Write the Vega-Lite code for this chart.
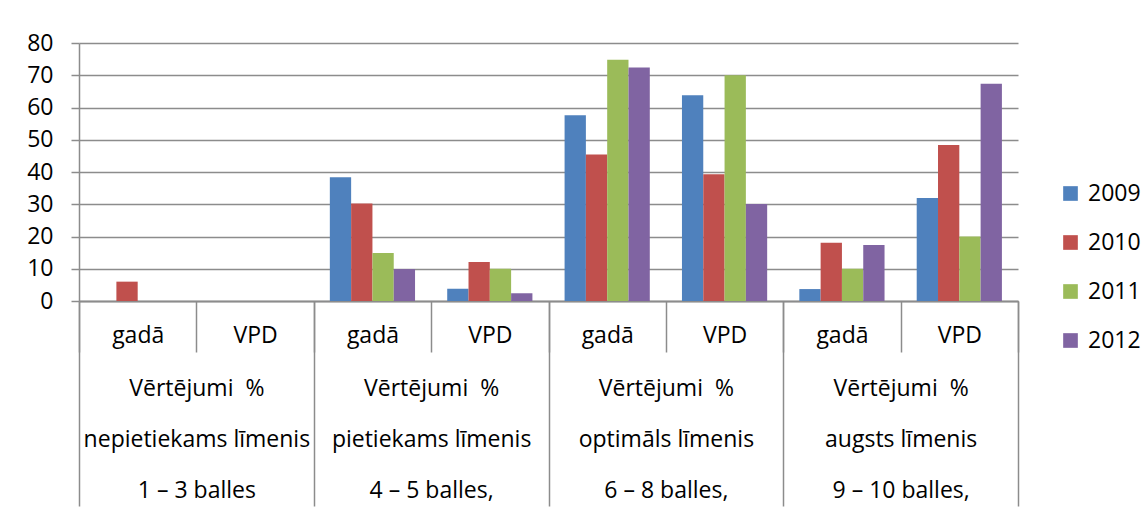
{
  "$schema": "https://vega.github.io/schema/vega-lite/v6.json",
  "width": 939,
  "height": 258,
  "autosize": {"type": "none"},
  "padding": {"left": 79, "top": 43, "right": 128, "bottom": 213},
  "background": "white",
  "config": {
    "font": "Open Sans",
    "view": {"stroke": null},
    "axis": {
      "labelFont": "Open Sans",
      "labelFontSize": 23,
      "labelColor": "#000000",
      "domainColor": "#8c8c8c",
      "domainWidth": 1.5,
      "tickColor": "#8c8c8c",
      "tickWidth": 1.5,
      "gridColor": "#8c8c8c",
      "gridWidth": 1.5
    }
  },
  "data": {
    "values": [
      {"cat": "1 gadā", "group": "Vērtējumi \u00a0%|nepietiekams līmenis|1 – 3 balles", "year": "2009", "value": 0},
      {"cat": "1 gadā", "group": "Vērtējumi \u00a0%|nepietiekams līmenis|1 – 3 balles", "year": "2010", "value": 6},
      {"cat": "1 gadā", "group": "Vērtējumi \u00a0%|nepietiekams līmenis|1 – 3 balles", "year": "2011", "value": 0},
      {"cat": "1 gadā", "group": "Vērtējumi \u00a0%|nepietiekams līmenis|1 – 3 balles", "year": "2012", "value": 0},
      {"cat": "1 VPD", "group": "Vērtējumi \u00a0%|nepietiekams līmenis|1 – 3 balles", "year": "2009", "value": 0},
      {"cat": "1 VPD", "group": "Vērtējumi \u00a0%|nepietiekams līmenis|1 – 3 balles", "year": "2010", "value": 0},
      {"cat": "1 VPD", "group": "Vērtējumi \u00a0%|nepietiekams līmenis|1 – 3 balles", "year": "2011", "value": 0},
      {"cat": "1 VPD", "group": "Vērtējumi \u00a0%|nepietiekams līmenis|1 – 3 balles", "year": "2012", "value": 0},
      {"cat": "2 gadā", "group": "Vērtējumi \u00a0%|pietiekams līmenis|4 – 5 balles,", "year": "2009", "value": 38.4},
      {"cat": "2 gadā", "group": "Vērtējumi \u00a0%|pietiekams līmenis|4 – 5 balles,", "year": "2010", "value": 30.2},
      {"cat": "2 gadā", "group": "Vērtējumi \u00a0%|pietiekams līmenis|4 – 5 balles,", "year": "2011", "value": 14.9},
      {"cat": "2 gadā", "group": "Vērtējumi \u00a0%|pietiekams līmenis|4 – 5 balles,", "year": "2012", "value": 9.9},
      {"cat": "2 VPD", "group": "Vērtējumi \u00a0%|pietiekams līmenis|4 – 5 balles,", "year": "2009", "value": 3.8},
      {"cat": "2 VPD", "group": "Vērtējumi \u00a0%|pietiekams līmenis|4 – 5 balles,", "year": "2010", "value": 12.1},
      {"cat": "2 VPD", "group": "Vērtējumi \u00a0%|pietiekams līmenis|4 – 5 balles,", "year": "2011", "value": 10},
      {"cat": "2 VPD", "group": "Vērtējumi \u00a0%|pietiekams līmenis|4 – 5 balles,", "year": "2012", "value": 2.4},
      {"cat": "3 gadā", "group": "Vērtējumi \u00a0%|optimāls līmenis|6 – 8 balles,", "year": "2009", "value": 57.6},
      {"cat": "3 gadā", "group": "Vērtējumi \u00a0%|optimāls līmenis|6 – 8 balles,", "year": "2010", "value": 45.4},
      {"cat": "3 gadā", "group": "Vērtējumi \u00a0%|optimāls līmenis|6 – 8 balles,", "year": "2011", "value": 74.8},
      {"cat": "3 gadā", "group": "Vērtējumi \u00a0%|optimāls līmenis|6 – 8 balles,", "year": "2012", "value": 72.4},
      {"cat": "3 VPD", "group": "Vērtējumi \u00a0%|optimāls līmenis|6 – 8 balles,", "year": "2009", "value": 63.8},
      {"cat": "3 VPD", "group": "Vērtējumi \u00a0%|optimāls līmenis|6 – 8 balles,", "year": "2010", "value": 39.3},
      {"cat": "3 VPD", "group": "Vērtējumi \u00a0%|optimāls līmenis|6 – 8 balles,", "year": "2011", "value": 70},
      {"cat": "3 VPD", "group": "Vērtējumi \u00a0%|optimāls līmenis|6 – 8 balles,", "year": "2012", "value": 30.1},
      {"cat": "4 gadā", "group": "Vērtējumi \u00a0%|augsts līmenis|9 – 10 balles,", "year": "2009", "value": 3.7},
      {"cat": "4 gadā", "group": "Vērtējumi \u00a0%|augsts līmenis|9 – 10 balles,", "year": "2010", "value": 18.1},
      {"cat": "4 gadā", "group": "Vērtējumi \u00a0%|augsts līmenis|9 – 10 balles,", "year": "2011", "value": 10},
      {"cat": "4 gadā", "group": "Vērtējumi \u00a0%|augsts līmenis|9 – 10 balles,", "year": "2012", "value": 17.4},
      {"cat": "4 VPD", "group": "Vērtējumi \u00a0%|augsts līmenis|9 – 10 balles,", "year": "2009", "value": 31.9},
      {"cat": "4 VPD", "group": "Vērtējumi \u00a0%|augsts līmenis|9 – 10 balles,", "year": "2010", "value": 48.4},
      {"cat": "4 VPD", "group": "Vērtējumi \u00a0%|augsts līmenis|9 – 10 balles,", "year": "2011", "value": 20},
      {"cat": "4 VPD", "group": "Vērtējumi \u00a0%|augsts līmenis|9 – 10 balles,", "year": "2012", "value": 67.4}
    ]
  },
  "layer": [
    {
      "mark": {"type": "bar"},
      "encoding": {
        "x": {
          "field": "cat",
          "type": "nominal",
          "sort": null,
          "scale": {"type": "band", "paddingInner": 0, "paddingOuter": 0},
          "axis": {
            "orient": "bottom",
            "title": null,
            "labelExpr": "split(datum.label, ' ')[1]",
            "labelAngle": 0,
            "labelOverlap": false,
            "labelLimit": 300,
            "tickBand": "extent",
            "tickSize": 51,
            "labelPadding": -28,
            "labelBaseline": "top"
          }
        },
        "xOffset": {
          "field": "year",
          "type": "nominal",
          "scale": {"paddingInner": 0, "paddingOuter": 0.755}
        },
        "y": {
          "field": "value",
          "type": "quantitative",
          "scale": {"domain": [0, 80], "nice": false},
          "axis": {
            "title": null,
            "values": [0, 10, 20, 30, 40, 50, 60, 70, 80],
            "grid": true,
            "tickSize": 8,
            "labelPadding": 18
          }
        },
        "color": {
          "field": "year",
          "type": "nominal",
          "scale": {
            "domain": ["2009", "2010", "2011", "2012"],
            "range": ["#4F81BD", "#C0504D", "#9BBB59", "#8064A2"]
          },
          "legend": {
            "title": null,
            "orient": "none",
            "legendX": 980,
            "legendY": 139,
            "symbolType": "square",
            "symbolSize": 215,
            "symbolStrokeWidth": 0,
            "labelFont": "Open Sans",
            "labelFontSize": 23,
            "labelColor": "#000000",
            "labelOffset": 6,
            "rowPadding": 25,
            "padding": 0
          }
        }
      }
    },
    {
      "mark": {"type": "point", "opacity": 0},
      "encoding": {
        "x": {
          "field": "group",
          "type": "nominal",
          "sort": null,
          "scale": {"type": "band", "paddingInner": 0, "paddingOuter": 0},
          "axis": {
            "orient": "bottom",
            "title": null,
            "labelExpr": "split(datum.label, '|')",
            "labelAngle": 0,
            "labelOverlap": false,
            "labelLimit": 400,
            "tickBand": "extent",
            "tickSize": 205,
            "labelPadding": -129,
            "labelBaseline": "top",
            "labelLineHeight": 51
          }
        }
      }
    }
  ],
  "resolve": {"scale": {"x": "independent"}, "axis": {"x": "independent"}}
}
